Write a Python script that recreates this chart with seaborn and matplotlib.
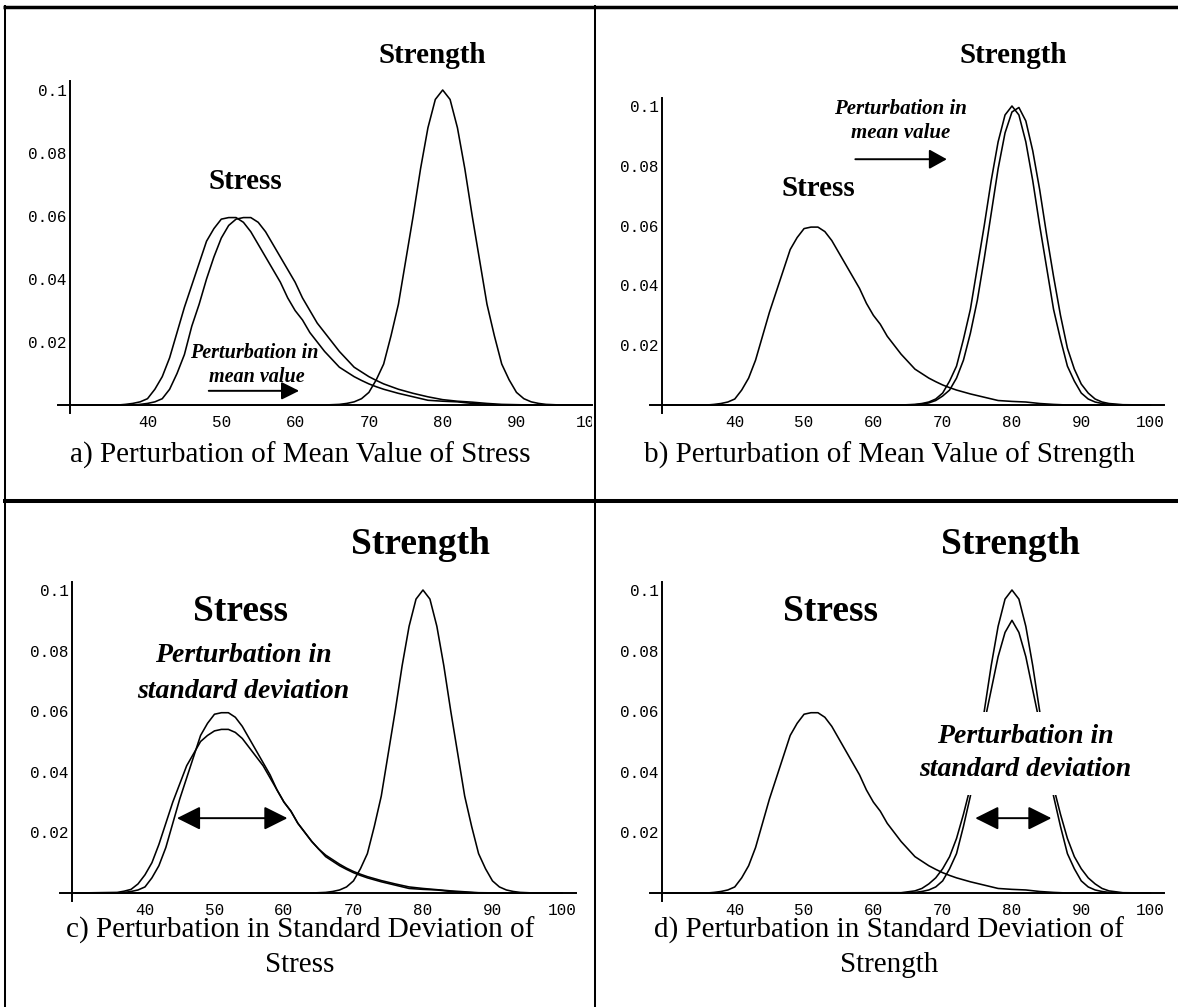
import matplotlib
matplotlib.use("Agg")
import matplotlib.pyplot as plt
import seaborn as sns
from matplotlib.lines import Line2D
from matplotlib.patches import Rectangle

# ---------------- data ----------------
stress_x = [30, 36, 37, 38, 39,
            40, 41, 42, 43, 44, 45, 46, 47, 48, 49, 50, 51, 52, 53, 54, 55, 56,
            57, 58, 59, 60, 61, 62, 63, 64, 65, 66, 67, 68, 69, 70, 71, 72,
            74, 76, 78, 80, 82, 84, 86, 88, 92, 100]
stress_y = [0, 0, 0.0002, 0.0005, 0.001,
            0.002, 0.005, 0.009, 0.015, 0.023, 0.031, 0.038, 0.045, 0.052, 0.056, 0.059, 0.0595, 0.0595, 0.058, 0.055, 0.051, 0.047,
            0.043, 0.039, 0.034, 0.030, 0.027, 0.023, 0.020, 0.017, 0.0145, 0.012, 0.0105, 0.009, 0.0078, 0.0067, 0.0058, 0.005,
            0.0037, 0.0026, 0.0015, 0.0012, 0.001, 0.0005, 0.0002, 0, 0, 0]
stress_shifted_y = [0, 0, 0, 0, 0.0002,
                    0.0005, 0.001, 0.002, 0.005, 0.010, 0.016, 0.025, 0.032, 0.040, 0.047, 0.053, 0.057, 0.059, 0.0595, 0.0595, 0.058, 0.055,
                    0.051, 0.047, 0.043, 0.039, 0.034, 0.030, 0.026, 0.023, 0.020, 0.017, 0.0145, 0.012, 0.0105, 0.009, 0.0078, 0.0067,
                    0.005, 0.0037, 0.0026, 0.0017, 0.0012, 0.0009, 0.0005, 0.0002, 0, 0]
stress_wide_y = [0, 0.0002, 0.0006, 0.0012, 0.003,
                 0.006, 0.010, 0.016, 0.023, 0.030, 0.036, 0.042, 0.046, 0.050, 0.052, 0.0535, 0.054, 0.054, 0.053, 0.051, 0.048, 0.045,
                 0.042, 0.038, 0.034, 0.030, 0.027, 0.023, 0.020, 0.017, 0.0145, 0.0125, 0.011, 0.0095, 0.0082, 0.0071, 0.0062, 0.0054,
                 0.0041, 0.003, 0.002, 0.0015, 0.0011, 0.0007, 0.0004, 0.0001, 0, 0]

strength_x = [30, 64, 66, 67, 68, 69, 70, 71, 72, 73, 74, 75, 76, 77, 78, 79, 80,
              81, 82, 83, 84, 85, 86, 87, 88, 89, 90, 91, 92, 93, 94, 96, 100]
strength_y = [0, 0, 0.0002, 0.0005, 0.001, 0.002, 0.004, 0.008, 0.013, 0.022, 0.032, 0.046, 0.060, 0.075, 0.088, 0.097, 0.100,
              0.097, 0.088, 0.075, 0.060, 0.046, 0.032, 0.022, 0.013, 0.008, 0.004, 0.002, 0.001, 0.0005, 0.0002, 0, 0]
strength_shifted_y = [0, 0, 0.0001, 0.0003, 0.0007, 0.0015, 0.003, 0.005, 0.009, 0.015, 0.024, 0.035, 0.049, 0.064, 0.079, 0.091, 0.098,
                      0.0995, 0.095, 0.085, 0.072, 0.057, 0.043, 0.030, 0.019, 0.012, 0.007, 0.004, 0.002, 0.001, 0.0005, 0.0001, 0]
strength_wide_y = [0, 0.0001, 0.0007, 0.0015, 0.003, 0.005, 0.008, 0.012, 0.018, 0.026, 0.035, 0.045, 0.056, 0.067, 0.078, 0.086, 0.090,
                   0.086, 0.078, 0.067, 0.056, 0.045, 0.035, 0.026, 0.018, 0.012, 0.008, 0.005, 0.003, 0.0015, 0.0007, 0.0001, 0]

x_ticks = [40, 50, 60, 70, 80, 90, 100]
x_tick_labels = ["40", "50", "60", "70", "80", "90", "100"]
y_ticks = [0.02, 0.04, 0.06, 0.08, 0.1]
y_tick_labels = ["0.02", "0.04", "0.06", "0.08", "0.1"]

captions = ["a) Perturbation of Mean Value of Stress",
            "b) Perturbation of Mean Value of Strength",
            "c) Perturbation in Standard Deviation of", "Stress",
            "d) Perturbation in Standard Deviation of", "Strength"]

# ---------------- figure ----------------
sns.set_style("white")
plt.rcParams['font.family'] = ['Liberation Serif', 'DejaVu Sans']
plt.rcParams['text.color'] = 'black'
plt.rcParams['axes.labelcolor'] = 'black'

W, H = 1178, 1007
fig = plt.figure(figsize=(W / 100, H / 100), dpi=100)
fig.patch.set_facecolor("white")
X_ORIGIN = 29.5
YLIM = (-0.0026, 0.1027)


def make_panel(axis_px, pxu, zero_py, pyu, xlim):
    left = axis_px + (xlim[0] - X_ORIGIN) * pxu
    right = axis_px + (xlim[1] - X_ORIGIN) * pxu
    top = zero_py - YLIM[1] * pyu
    bottom = zero_py - YLIM[0] * pyu
    ax = fig.add_axes([left / W, 1 - bottom / H, (right - left) / W, (bottom - top) / H])
    ax.set_facecolor("none")
    for s in ("top", "right"):
        ax.spines[s].set_visible(False)
    ax.spines["left"].set_position(("data", X_ORIGIN))
    ax.spines["bottom"].set_position(("data", 0))
    for s in ("left", "bottom"):
        ax.spines[s].set_color("black")
        ax.spines[s].set_linewidth(1.4)
    ax.set_xticks(x_ticks)
    ax.set_xticklabels(x_tick_labels)
    ax.set_yticks(y_ticks)
    ax.set_yticklabels(y_tick_labels)
    ax.set_xticks([v for v in range(30, 103, 2) if v % 10 != 0 and v <= xlim[1]], minor=True)
    ax.set_yticks([i * 0.005 for i in range(1, 21) if i % 4 != 0], minor=True)
    ax.tick_params(which="both", direction="in", color="black", width=1.1,
                   labelcolor="black", labelfontfamily="Liberation Mono", labelsize=11.5)
    ax.tick_params(which="major", length=4.5)
    ax.tick_params(which="minor", length=2.5)
    ax.tick_params(axis="x", pad=7)
    ax.tick_params(axis="y", pad=2.5)
    ax.set_xlabel("")
    ax.set_ylabel("")
    return ax


def fix_limits(ax, xlim):
    ax.set_xlim(xlim)
    ax.set_ylim(YLIM)
    ax.set_xlabel("")
    ax.set_ylabel("")


def curve(ax, x, y):
    sns.lineplot(x=x, y=y, ax=ax, color="black", linewidth=1.15, estimator=None)


def arrow(ax, x0, x1, y, style, hl, hw):
    ax.annotate("", xy=(x1, y), xytext=(x0, y),
                arrowprops=dict(arrowstyle=f"{style},head_length={hl},head_width={hw}",
                                mutation_scale=20, lw=1.4, color="black",
                                shrinkA=0, shrinkB=0), zorder=6)


bold = dict(fontweight="bold", ha="center", va="center", color="black")
bital = dict(fontweight="bold", fontstyle="italic", ha="center", va="center", color="black")

# ---- panel a ----
xlim_a = (27.9, 100.23)
ax_a = make_panel(70, 7.38, 405, 3150, xlim_a)
curve(ax_a, stress_x, stress_y)
curve(ax_a, stress_x, stress_shifted_y)
curve(ax_a, strength_x, strength_y)
fix_limits(ax_a, xlim_a)
ax_a.text(78.66, 0.111, "Strength", fontsize=21, **bold)
ax_a.text(53.27, 0.0709, "Stress", fontsize=21, **bold)
ax_a.text(54.5, 0.0166, "Perturbation in", fontsize=14.5, **bital)
ax_a.text(54.77, 0.0090, "mean value", fontsize=14.5, **bital)
arrow(ax_a, 48.3, 60.55, 0.0045, "-|>", 0.54, 0.27)

# ---- panel b ----
xlim_b = (27.8, 102)
ax_b = make_panel(662, 6.93, 405, 2990, xlim_b)
curve(ax_b, stress_x, stress_y)
curve(ax_b, strength_x, strength_y)
curve(ax_b, strength_x, strength_shifted_y)
fix_limits(ax_b, xlim_b)
ax_b.text(80.25, 0.117, "Strength", fontsize=21, **bold)
ax_b.text(52.1, 0.0725, "Stress", fontsize=21, **bold)
ax_b.text(63.9, 0.099, "Perturbation in", fontsize=15, **bital)
ax_b.text(63.9, 0.091, "mean value", fontsize=15, **bital)
arrow(ax_b, 57.4, 70.6, 0.0822, "-|>", 0.54, 0.3)

# ---- panel c ----
xlim_c = (27.8, 102)
ax_c = make_panel(72, 6.95, 893, 3030, xlim_c)
curve(ax_c, stress_x, stress_y)
curve(ax_c, stress_x, stress_wide_y)
curve(ax_c, strength_x, strength_y)
fix_limits(ax_c, xlim_c)
ax_c.text(79.6, 0.1149, "Strength", fontsize=27, **bold)
ax_c.text(53.8, 0.0928, "Stress", fontsize=27, **bold)
ax_c.text(54.1, 0.0785, "Perturbation in", fontsize=20, **bital)
ax_c.text(54.1, 0.0664, "standard deviation", fontsize=20, **bital)
arrow(ax_c, 44.6, 60.5, 0.0247, "<|-|>", 0.72, 0.36)

# ---- panel d ----
xlim_d = (27.8, 102)
ax_d = make_panel(662, 6.93, 893, 3030, xlim_d)
curve(ax_d, stress_x, stress_y)
curve(ax_d, strength_x, strength_y)
curve(ax_d, strength_x, strength_wide_y)
fix_limits(ax_d, xlim_d)
ax_d.text(79.8, 0.1149, "Strength", fontsize=27, **bold)
ax_d.text(53.8, 0.0928, "Stress", fontsize=27, **bold)
box = dict(facecolor="white", edgecolor="none", pad=9)
ax_d.text(81.9, 0.0516, "Perturbation in", fontsize=20, bbox=box, zorder=5, **bital)
ax_d.text(81.9, 0.0406, "standard deviation", fontsize=20, bbox=box, zorder=5, **bital)
arrow(ax_d, 74.7, 85.7, 0.0247, "<|-|>", 0.72, 0.36)

# ---- captions ----
cap = dict(fontsize=21, ha="center", va="center", color="black")
fig.text(300 / W, 1 - 455 / H, captions[0], **cap)
fig.text(889 / W, 1 - 455 / H, captions[1], **cap)
fig.text(300 / W, 1 - 930 / H, captions[2], **cap)
fig.text(300 / W, 1 - 965 / H, captions[3], **cap)
fig.text(889 / W, 1 - 930 / H, captions[4], **cap)
fig.text(889 / W, 1 - 965 / H, captions[5], **cap)

# panel a's graphic is cut off by its table cell (hides the end of the "100" label)
fig.add_artist(Rectangle((592 / W, 1 - 440 / H), 20 / W, 30 / H, transform=fig.transFigure,
                         facecolor="white", edgecolor="none", zorder=1))

# ---- table borders ----
def hline(y, x0, x1, lw):
    fig.add_artist(Line2D([x0 / W, x1 / W], [1 - y / H, 1 - y / H], transform=fig.transFigure,
                          color="black", lw=lw, solid_capstyle="butt", zorder=3))


def vline(x, y0, y1, lw):
    fig.add_artist(Line2D([x / W, x / W], [1 - y0 / H, 1 - y1 / H], transform=fig.transFigure,
                          color="black", lw=lw, solid_capstyle="butt", zorder=3))


hline(6.5, 3, W, 2.5)
hline(501, 3, W, 2.9)
vline(5, 5, H, 1.45)
vline(595, 5, H, 1.45)

fig.savefig("out.png", dpi=100, facecolor="white")
